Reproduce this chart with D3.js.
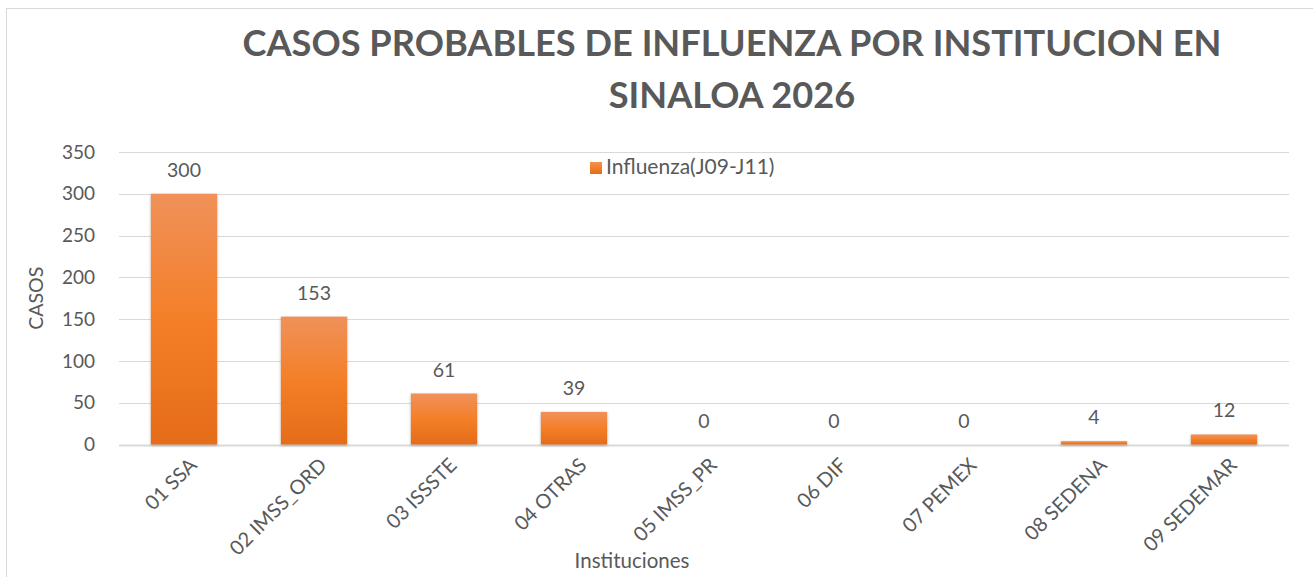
<!DOCTYPE html>
<html>
<head>
<meta charset="utf-8">
<script src="https://cdn.jsdelivr.net/npm/d3@7"></script>
<style>
  body { margin: 0; background: #fff; }
  text { font-family: Lato, "Open Sans", sans-serif; fill: #595959; }
</style>
</head>
<body>
<script>
// data
const categories = ["01 SSA", "02 IMSS_ORD", "03 ISSSTE", "04 OTRAS", "05 IMSS_PR",
  "06 DIF", "07 PEMEX", "08 SEDENA", "09 SEDEMAR"];
const values = [300, 153, 61, 39, 0, 0, 0, 4, 12];
const yTicks = [0, 50, 100, 150, 200, 250, 300, 350];
const seriesName = "Influenza(J09-J11)";
const titleLines = ["CASOS PROBABLES DE INFLUENZA POR INSTITUCION EN", "SINALOA 2026"];

const width = 1313, height = 577;
const margin = {top: 152, right: 24, bottom: 132, left: 119};

const svg = d3.select("body").append("svg")
    .attr("width", width)
    .attr("height", height);

// chart frame
svg.append("rect")
    .attr("x", 6.5).attr("y", 8.5)
    .attr("width", width + 10).attr("height", height + 10)
    .attr("fill", "none")
    .attr("stroke", "#d9d9d9");

const grad = svg.append("defs").append("linearGradient")
    .attr("id", "barGrad")
    .attr("x1", 0).attr("y1", 0).attr("x2", 0).attr("y2", 1);
grad.append("stop").attr("offset", "0%").attr("stop-color", "#f0915a");
grad.append("stop").attr("offset", "50%").attr("stop-color", "#f47f28");
grad.append("stop").attr("offset", "100%").attr("stop-color", "#e56c19");

const x = d3.scaleBand()
    .domain(categories)
    .range([margin.left, width - margin.right])
    .paddingInner(0.49)
    .paddingOuter(0.245);

const y = d3.scaleLinear()
    .domain([0, 350])
    .range([height - margin.bottom - 0.5, margin.top]);

// gridlines
svg.append("g")
    .selectAll("line")
    .data(yTicks)
    .join("line")
    .attr("x1", margin.left)
    .attr("x2", width - margin.right)
    .attr("y1", d => Math.round(y(d)) + 0.5)
    .attr("y2", d => Math.round(y(d)) + 0.5)
    .attr("stroke", "#d9d9d9")
    .attr("stroke-width", d => d === 0 ? 2 : 1.2);

// y axis
const yAxis = g => g
    .attr("transform", `translate(${margin.left - 24},0)`)
    .call(d3.axisLeft(y).tickValues(yTicks).tickSize(0).tickPadding(0))
    .call(g => g.select(".domain").remove())
    .call(g => g.selectAll("text")
        .attr("font-size", 19)
        .attr("font-family", "Lato, 'Open Sans', sans-serif")
        .attr("fill", "#595959"));
svg.append("g").call(yAxis);

// bars
svg.append("g")
    .selectAll("rect")
    .data(values)
    .join("rect")
    .attr("x", (d, i) => x(categories[i]))
    .attr("y", d => y(d))
    .attr("width", x.bandwidth())
    .attr("height", d => y(0) - y(d))
    .attr("fill", "url(#barGrad)")
    .attr("style", "filter: drop-shadow(0px 1px 1.5px rgba(0,0,0,0.25))");

// data labels
svg.append("g")
    .selectAll("text")
    .data(values)
    .join("text")
    .attr("x", (d, i) => x(categories[i]) + x.bandwidth() / 2)
    .attr("y", d => y(d) - 17)
    .attr("text-anchor", "middle")
    .attr("font-size", 19.5)
    .text(d => d);

// x axis labels
const xAxis = g => g
    .attr("transform", `translate(0,${y(0)})`)
    .call(d3.axisBottom(x).tickSize(0).tickPadding(0))
    .call(g => g.select(".domain").remove())
    .call(g => g.selectAll("text")
        .attr("font-size", 20)
        .attr("font-family", "Lato, 'Open Sans', sans-serif")
        .attr("fill", "#595959")
        .attr("text-anchor", "end")
        .attr("dy", 0)
        .attr("y", 0)
        .attr("transform", "translate(14,22) rotate(-45)"));
svg.append("g").call(xAxis);

// axis titles
svg.append("text")
    .attr("transform", `translate(43,${(y(0) + y(350)) / 2}) rotate(-90)`)
    .attr("text-anchor", "middle")
    .attr("font-size", 19.5)
    .text("CASOS");

svg.append("text")
    .attr("x", 632)
    .attr("y", 568)
    .attr("text-anchor", "middle")
    .attr("font-size", 20.5)
    .text("Instituciones");

// legend
const legend = svg.append("g").attr("transform", "translate(590,162)");
legend.append("rect")
    .attr("width", 12).attr("height", 12)
    .attr("fill", "url(#barGrad)");
legend.append("text")
    .attr("x", 16).attr("y", 12)
    .attr("font-size", 21)
    .text(seriesName);

// title
svg.append("g")
    .selectAll("text")
    .data(titleLines)
    .join("text")
    .attr("x", 732)
    .attr("y", (d, i) => 56 + i * 52)
    .attr("text-anchor", "middle")
    .attr("font-size", 36.2)
    .attr("font-weight", "bold")
    .text(d => d);
</script>
</body>
</html>
